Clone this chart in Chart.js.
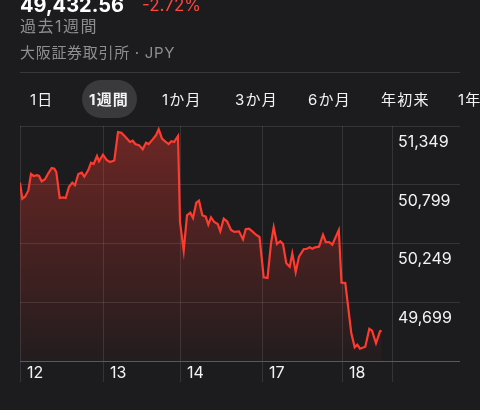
<!DOCTYPE html>
<html><head><meta charset="utf-8">
<script src="https://cdn.jsdelivr.net/npm/chart.js@4/dist/chart.umd.min.js"></script>
<style>
html,body{margin:0;padding:0;background:#1c1c1e;width:480px;height:410px;overflow:hidden;}
body{position:relative;font-family:Inter,"Noto Sans CJK JP",sans-serif;}
.t{position:absolute;white-space:nowrap;line-height:1;}
#c{position:absolute;left:0;top:0;}
.tab{position:absolute;top:92px;font-size:15px;color:#f2f2f7;line-height:1;white-space:nowrap;letter-spacing:1.2px;}
</style></head><body>
<canvas id="c" width="480" height="410"></canvas>
<div class="t" style="left:20px;top:-5px;font-size:20px;font-weight:700;color:#fff">49,432.56</div>
<div class="t" style="left:142px;top:-3px;font-size:17px;color:#ff453a">-2.72%</div>
<div class="t" style="left:20px;top:18px;font-size:16px;color:#8e8e93;letter-spacing:1.5px">過去1週間</div>
<div class="t" style="left:20px;top:45px;font-size:15px;color:#8e8e93;letter-spacing:0.7px">大阪証券取引所 · JPY</div>
<div style="position:absolute;left:20px;top:72px;width:440px;height:1px;background:#38383a"></div>
<div style="position:absolute;left:82px;top:80px;width:55px;height:38px;border-radius:19px;background:#3a3a3c"></div>
<div class="tab" style="left:30px">1日</div>
<div class="tab" style="left:89px;font-weight:700">1週間</div>
<div class="tab" style="left:162px">1か月</div>
<div class="tab" style="left:235px">3か月</div>
<div class="tab" style="left:308px">6か月</div>
<div class="tab" style="left:381px">年初来</div>
<div class="tab" style="left:458px">1年</div>
<script>
// time position within the week (session units) and price values
const times = [0,2.3,5,8.3,11,13.7,17,19,21.7,25,28.3,31.7,34.3,36.3,39.7,43,45.7,49,52.3,55,58.3,61.7,64.3,68.3,71,73.7,77,79,83,86.5,90,94.3,98,101.3,105.3,110,112.7,115.3,119.3,122.7,126,128.7,132.7,136,138.7,142,146,148.7,151.3,154,158,160,163.7,167,170.3,173,176.3,179,182.3,185.7,188.3,191,194.3,197.7,200.3,203.7,207,211,214.3,219,223,225.7,229,232.3,236.3,239.5,243.7,247.5,251,253.7,257,260.3,263,266.3,269.7,272.3,275.7,279,283.7,287,289.7,292.3,295,299,303,305.7,309,312.3,318.8,321.5,325.3,331.3,334.7,337.3,340,345.3,349.3,352,356,360,361.5];
const values = [50818,50668,50687,50743,50900,50881,50888,50881,50831,50850,50906,50956,50949,50918,50675,50681,50675,50781,50818,50794,50900,50912,50874,50937,51005,50993,51068,51018,51080,51031,51012,51026,51293,51286,51249,51199,51211,51180,51168,51131,51193,51180,51224,51262,51318,51230,51199,51180,51206,51199,51255,50450,50182,50513,50537,50488,50631,50650,50513,50500,50425,50494,50450,50431,50363,50481,50457,50375,50357,50363,50288,50382,50388,50363,50329,50310,49933,49926,50251,50401,50244,50270,50244,50064,50032,50157,49982,50125,50195,50200,50213,50200,50213,50219,50331,50263,50263,50238,50375,49882,49879,49408,49277,49302,49264,49283,49451,49433,49315,49427,49435];
const dayTicks = [0,83,160,242,322];
const dayLabels = ['12','13','14','17','18'];
const sessionEnd = 372;
const yMin = 49149, yMax = 51349, yStep = 550;

const gridCol = 'rgba(255,255,255,0.11)';
const axisCol = '#5a5a5e';
const pts = times.map((t,i)=>({x:t,y:values[i]}));

new Chart(document.getElementById('c'), {
  type: 'line',
  data: { datasets: [{
    data: pts,
    borderColor: '#ff3b30',
    borderWidth: 2.2,
    pointRadius: 0,
    tension: 0,
    fill: 'start',
    backgroundColor: (ctx) => {
      const ca = ctx.chart.chartArea;
      if (!ca) return 'rgba(255,59,48,0.2)';
      const g = ctx.chart.ctx.createLinearGradient(0, ca.top, 0, ca.bottom);
      g.addColorStop(0, 'rgba(255,59,48,0.36)');
      g.addColorStop(1, 'rgba(255,59,48,0.03)');
      return g;
    }
  }]},
  options: {
    responsive: false,
    animation: false,
    layout: { padding: { top: 126, left: 20, right: 0, bottom: 0 } },
    plugins: { legend: { display: false }, tooltip: { enabled: false } },
    scales: {
      x: {
        type: 'linear', min: 0, max: sessionEnd,
        afterBuildTicks: (s) => { s.ticks = dayTicks.concat([sessionEnd]).map(v => ({ value: v })); },
        afterFit: (s) => { s.height = 49; s.paddingLeft = 0; s.paddingRight = 0; },
        grid: { color: gridCol, tickColor: gridCol, tickLength: 21, drawTicks: true },
        border: { display: true, color: axisCol },
        ticks: {
          autoSkip: false, maxRotation: 0, align: 'start', labelOffset: 7, padding: -18,
          color: '#f2f2f7', font: { family: 'Inter', size: 16 },
          callback: (v) => { const i = dayTicks.indexOf(v); return i >= 0 ? dayLabels[i] : ''; }
        }
      },
      y: {
        position: 'right', min: yMin, max: yMax,
        afterFit: (s) => { s.width = 88; s.paddingTop = 0; s.paddingBottom = 0; },
        grid: {
          color: (c) => (c.tick && c.tick.value === yMin) ? axisCol : gridCol,
          tickLength: 68, drawTicks: true
        },
        border: { display: false },
        ticks: {
          stepSize: yStep, padding: -62, labelOffset: 16,
          color: '#f2f2f7', font: { family: 'Inter', size: 16 },
          callback: (v) => v === yMin ? '' : v.toLocaleString('en-US')
        }
      }
    }
  }
});
</script>
</body></html>
